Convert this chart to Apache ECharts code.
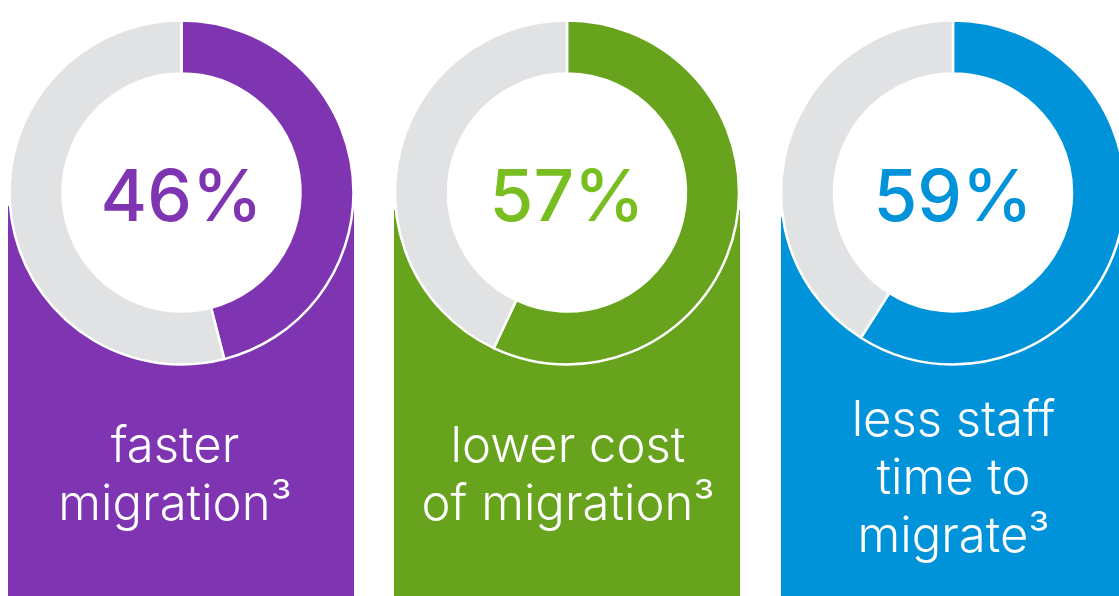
<!DOCTYPE html>
<html><head><meta charset="utf-8">
<script src="https://cdn.jsdelivr.net/npm/echarts@6/dist/echarts.min.js"></script>
<style>html,body{margin:0;padding:0;background:#fff}#c{width:1119px;height:596px}</style>
</head><body><div id="c"></div>
<script>
const categories = ['faster\nmigration³', 'lower cost\nof migration³', 'less staff\ntime to\nmigrate³'];
const values = [46, 57, 59];
const panelColors = ['#7F35B1', '#67A31D', '#0093DA'];
const textColors = ['#7F35B1', '#78BE20', '#0093DA'];
const restColor = '#E1E2E4';

const centersX = [181.5, 567, 953];
const centerY = 192.5;
const panelLeft = [8, 394, 781];
const panelTop = [206, 210, 217];
const panelW = 346;
const labelLeft = [170, 563, 948.5];
const labelTop = [413, 413, 387];

const chart = echarts.init(document.getElementById('c'));
const series = values.map((v, i) => ({
  type: 'pie',
  z: 5,
  center: [centersX[i], centerY],
  radius: [119, 172],
  startAngle: 90,
  clockwise: true,
  silent: true,
  avoidLabelOverlap: false,
  labelLine: {show: false},
  labelLayout: {dy: 7},
  itemStyle: {borderColor: '#fff', borderWidth: 2.5},
  data: [
    {value: v, name: 'v', itemStyle: {color: panelColors[i]},
     label: {show: true, position: 'center', formatter: '{c}%', color: textColors[i],
             fontFamily: 'Inter', fontWeight: 500, fontSize: 71}},
    {value: 100 - v, name: 'r', itemStyle: {color: restColor}, label: {show: false}}
  ]
}));

const titles = categories.map((t, i) => ({
  text: t,
  left: labelLeft[i],
  top: labelTop[i],
  textAlign: 'center',
  textStyle: {color: '#fff', fontFamily: 'Inter', fontWeight: 300, fontSize: 49, lineHeight: 58}
}));

const graphics = [];
panelLeft.forEach((x, i) => {
  graphics.push({
    type: 'rect', z: 0,
    shape: {x: x, y: panelTop[i], width: panelW, height: 596 - panelTop[i]},
    style: {fill: panelColors[i]}
  });
  graphics.push({
    type: 'circle', z: 1,
    shape: {cx: centersX[i], cy: centerY, r: 120},
    style: {fill: '#fff'}
  });
});

chart.setOption({
  animation: false,
  title: titles,
  graphic: graphics,
  series: series
});
</script></body></html>
